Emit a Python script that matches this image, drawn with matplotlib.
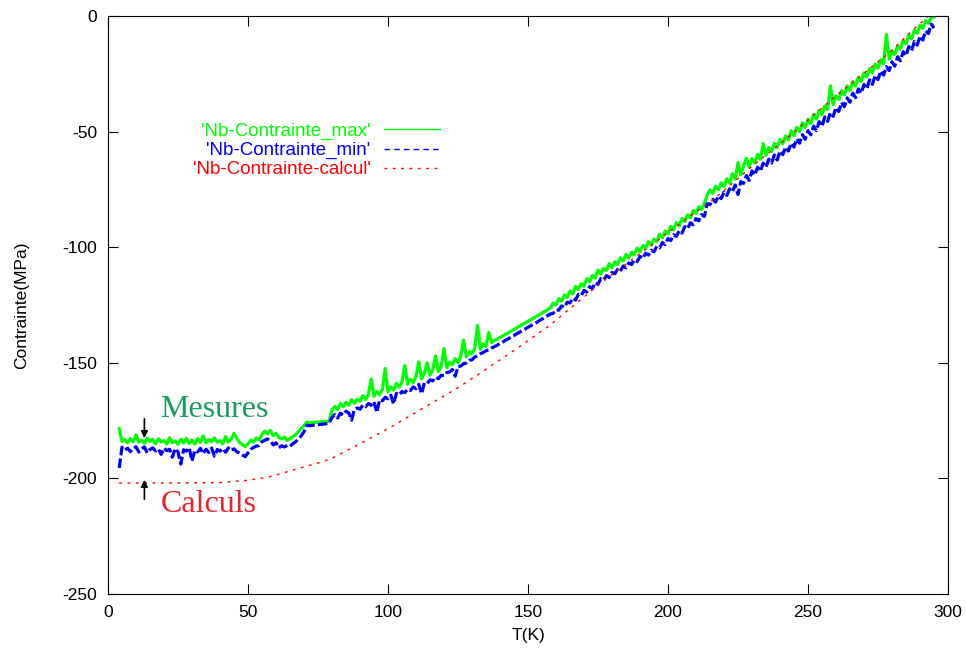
import matplotlib.pyplot as plt

# sample temperatures (K); no data recorded between 72 and 79 K
temp = list(range(4, 73)) + list(range(79, 296))

stress_max = [
    -178.5, -184.0, -183.2, -184.6, -182.8, -184.1, -181.2, -184.3, -183.5, -184.8,
    -182.6, -184.0, -183.1, -185.0, -182.9, -184.2, -183.6, -185.1, -182.4, -184.5,
    -183.8, -185.3, -183.0, -184.7, -182.7, -184.9, -183.4, -185.2, -182.8, -184.4,
    -181.6, -184.6, -183.2, -184.1, -182.5, -184.3, -183.7, -185.0, -181.9, -184.2,
    -183.1, -180.5, -182.6, -184.5, -185.4, -186.2, -185.0, -183.5, -184.2, -182.5,
    -183.4, -181.0, -179.6, -180.8, -179.2, -181.5, -180.6, -182.3, -183.0, -182.1,
    -183.6, -182.8, -182.0, -181.1, -179.8, -178.4, -177.2, -175.6, -176.0,
    -175.2,
    -170.4, -168.9, -170.2, -167.6, -169.0, -167.1, -168.4, -165.9, -167.5, -165.8,
    -166.6, -164.2, -165.9, -163.8, -157.0, -164.5, -162.4, -163.8, -161.6, -152.5,
    -162.6, -160.4, -161.8, -158.9, -160.5, -158.2, -151.2, -159.3, -157.1, -158.6,
    -155.8, -149.6, -156.9, -154.6, -150.0, -155.3, -153.0, -147.0, -153.8, -151.6,
    -143.8, -152.1, -149.7, -150.8, -148.2, -149.9, -147.1, -140.2, -147.5, -145.2,
    -146.1, -143.6, -133.8, -144.2, -141.8, -142.9, -136.8, -141.2, -140.4, -139.8,
    -139.0, -138.4, -137.6, -137.0, -136.2, -135.6, -134.8, -134.2, -133.4, -132.8,
    -132.0, -131.4, -130.6, -130.0, -129.2, -128.5, -127.8, -127.0, -126.3, -124.1,
    -125.0, -122.2, -123.4, -120.6, -121.8, -119.0, -120.2, -116.9, -118.3, -115.8,
    -116.9, -113.6, -115.0, -112.2, -113.4, -109.9, -111.6, -109.2, -110.1, -107.1,
    -108.9, -106.3, -107.5, -104.6, -106.0, -103.1, -104.7, -102.2, -103.3, -100.4,
    -102.0, -99.3, -100.6, -97.6, -99.1, -96.5, -97.6, -94.4, -95.9, -93.0,
    -94.2, -91.0, -92.5, -89.4, -90.8, -87.6, -88.9, -86.0, -87.3, -84.1,
    -85.4, -82.5, -83.8, -81.0, -77.4, -75.2, -76.8, -73.6, -75.2, -72.1,
    -73.8, -70.4, -72.3, -68.2, -70.6, -63.4, -68.7, -64.8, -61.5, -65.3,
    -61.7, -63.6, -59.8, -62.0, -55.2, -60.2, -56.9, -58.6, -55.0, -56.9,
    -53.4, -55.3, -51.8, -53.6, -49.6, -51.8, -48.1, -50.0, -46.2, -48.3,
    -44.7, -46.5, -42.6, -44.6, -40.8, -42.7, -38.9, -40.5, -30.2, -38.3,
    -34.6, -36.1, -32.3, -34.1, -30.2, -32.2, -28.4, -30.3, -26.5, -28.3,
    -24.6, -26.4, -22.7, -24.5, -20.8, -22.6, -18.9, -20.7, -8.0, -18.7,
    -15.1, -16.6, -12.9, -14.3, -10.6, -12.0, -8.3, -9.8, -6.1, -7.5,
    -3.9, -5.3, -2.0, -3.1, -0.8, -0.4,
]

stress_min = [
    -195.5, -186.5, -187.8, -186.9, -188.4, -187.0, -186.3, -188.6, -187.2, -186.4,
    -189.0, -187.5, -186.8, -188.1, -187.3, -189.6, -186.9, -188.0, -187.4, -190.8,
    -187.1, -188.5, -193.8, -187.6, -188.2, -186.7, -192.5, -187.9, -188.6, -187.0,
    -189.3, -187.4, -188.8, -186.9, -190.4, -187.5, -188.2, -187.1, -188.7, -186.8,
    -188.0, -187.2, -188.5, -189.1, -189.9, -190.6, -189.0, -187.4, -186.6, -186.0,
    -185.8, -184.1, -183.5, -182.9, -183.8, -185.5, -184.6, -186.8, -185.9, -186.4,
    -185.7, -186.1, -185.0, -184.2, -182.9, -181.6, -179.8, -177.0, -177.2,
    -176.2,
    -173.6, -172.4, -173.9, -171.8, -172.6, -170.9, -171.7, -174.8, -170.2, -169.5,
    -170.1, -168.3, -169.0, -167.6, -168.4, -166.8, -171.5, -166.0, -166.4, -164.9,
    -165.6, -164.0, -167.8, -163.2, -163.9, -162.4, -162.9, -161.5, -162.0, -160.4,
    -161.2, -159.3, -163.4, -158.6, -158.9, -157.4, -157.8, -156.2, -156.9, -155.4,
    -155.6, -154.2, -154.0, -152.9, -155.8, -151.6, -151.4, -150.4, -150.1, -148.9,
    -148.7, -147.5, -147.0, -146.1, -145.5, -144.8, -144.4, -143.6, -143.0, -142.4,
    -141.6, -141.0, -140.2, -139.6, -138.8, -138.2, -137.4, -136.8, -136.0, -135.4,
    -134.6, -134.0, -133.2, -132.6, -131.8, -131.1, -130.4, -129.6, -128.9, -128.6,
    -127.1, -127.2, -125.4, -126.0, -123.8, -124.1, -122.0, -122.9, -120.4, -121.0,
    -118.7, -119.4, -117.0, -117.9, -115.3, -116.1, -113.6, -114.2, -112.3, -113.1,
    -110.9, -111.5, -109.6, -110.4, -108.1, -108.9, -106.8, -107.5, -105.4, -106.2,
    -104.0, -104.9, -102.6, -103.4, -101.3, -102.0, -99.6, -100.3, -98.0, -98.8,
    -96.3, -97.1, -94.6, -95.4, -92.8, -93.9, -91.1, -92.0, -89.4, -90.3,
    -87.6, -88.6, -85.9, -86.7, -81.2, -81.6, -79.3, -80.5, -77.8, -79.0,
    -76.2, -77.6, -74.8, -76.0, -73.1, -77.2, -71.6, -72.4, -69.0, -71.1,
    -67.0, -68.8, -65.4, -67.2, -63.6, -65.4, -61.9, -63.6, -60.1, -62.3,
    -58.4, -60.0, -56.7, -58.4, -55.0, -56.7, -53.1, -55.0, -51.3, -53.3,
    -49.6, -51.4, -47.6, -49.6, -45.7, -47.7, -43.7, -45.6, -41.8, -43.4,
    -39.6, -41.3, -37.4, -39.2, -35.4, -37.3, -33.4, -35.3, -31.5, -33.4,
    -29.6, -31.5, -27.6, -29.6, -25.7, -27.5, -23.8, -25.6, -21.9, -23.6,
    -19.8, -21.7, -17.6, -19.4, -15.4, -17.2, -13.2, -15.0, -11.0, -12.6,
    -8.7, -10.4, -6.4, -7.6, -3.5, -5.2,
]

calc_temp = [4, 20, 40, 50, 57, 65, 76, 80, 90, 100, 112, 125, 136, 147, 158,
             176, 195, 209, 216, 232, 241, 261, 279, 288, 293]
calc_stress = [-202, -202, -201.8, -200.8, -199.5, -196.8, -193, -191.3, -185,
               -178.5, -170, -160.8, -152, -143, -133.6, -115.5, -98.2, -85.6,
               -79.6, -63, -54.4, -33.5, -16, -5.5, 0]

plt.rcParams['font.family'] = ['Liberation Sans', 'DejaVu Sans']
plt.rcParams['axes.unicode_minus'] = False

fig = plt.figure(figsize=(9.66, 6.52), dpi=100)
ax = fig.add_axes([108 / 966, 58 / 652, 840 / 966, 578 / 652])

ax.plot(temp, stress_max, color='#00ff00', lw=2.3,
        label="'Nb-Contrainte_max'")
ax.plot(temp, stress_min, color='#0000ff', lw=2.3, ls=(0, (3, 1)),
        label="'Nb-Contrainte_min'")
ax.plot(calc_temp, calc_stress, color='#ff0000', lw=1.0, ls=(0, (2, 4)),
        label="'Nb-Contrainte-calcul'")

ax.set_xlim(0, 300)
ax.set_ylim(-250, 0)
ax.set_xticks(range(0, 301, 50))
ax.set_yticks(range(-250, 1, 50))
ax.tick_params(direction='in', length=7, top=True, right=True,
               labelsize=12.5, pad=8)
ax.set_xlabel('T(K)', fontsize=12.5, labelpad=6)
ax.set_ylabel('Contrainte(MPa)', fontsize=12.5, labelpad=24)

leg = ax.legend(loc='upper right', bbox_to_anchor=(0.395, 0.815),
                frameon=False, markerfirst=False, labelcolor='linecolor',
                fontsize=13.5, handlelength=3.0, handletextpad=0.7,
                labelspacing=0.1, borderpad=0, borderaxespad=0)
# thin legend samples like the original
for h, style in zip(leg.get_lines(), ['-', (0, (4, 3)), (0, (2, 4))]):
    h.set_linewidth(1.0)
    h.set_linestyle(style)

# annotations
ax.annotate('', xy=(13, -183.8), xytext=(13, -173),
            arrowprops=dict(arrowstyle='-|>', color='black', lw=1.2,
                            mutation_scale=10))
ax.annotate('', xy=(13, -199.4), xytext=(13, -210.2),
            arrowprops=dict(arrowstyle='-|>', color='black', lw=1.2,
                            mutation_scale=10))
ax.text(18.6, -173.4, 'Mesures', family='Liberation Serif', fontsize=23,
        color='#1a9c5c')
ax.text(19.0, -214.6, 'Calculs', family='Liberation Serif', fontsize=23,
        color='#e8252f')

fig.savefig('out.png', dpi=100)
